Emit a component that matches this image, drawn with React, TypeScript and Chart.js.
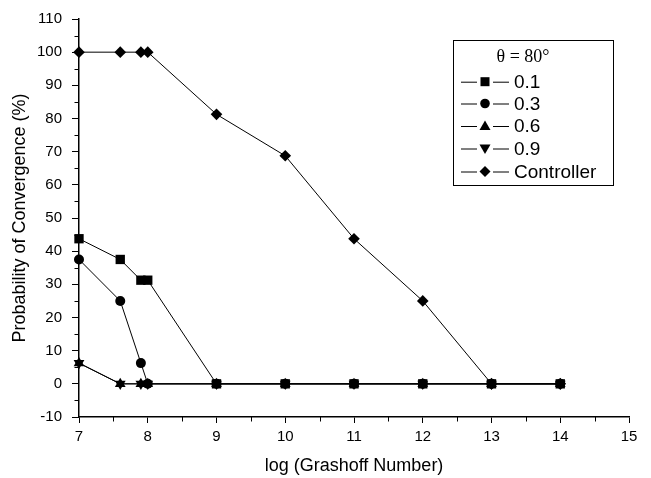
import React, { useEffect, useRef } from "react";
import { Chart, registerables } from "chart.js";

Chart.register(...registerables);

const xValues = [7, 7.6, 7.9, 8, 9, 10, 11, 12, 13, 14];
const series01 = [43.75, 37.5, 31.25, 31.25, 0, 0, 0, 0, 0, 0];
const series03 = [37.5, 25, 6.25, 0, 0, 0, 0, 0, 0, 0];
const series06 = [6.25, 0, 0, 0, 0, 0, 0, 0, 0, 0];
const series09 = [6.25, 0, 0, 0, 0, 0, 0, 0, 0, 0];
const seriesController = [100, 100, 100, 100, 81.25, 68.75, 43.75, 25, 0, 0];

const seriesLabels = ["0.1", "0.3", "0.6", "0.9", "Controller"];
const legendTitle = "θ = 80°";
const xTitle = "log (Grashoff Number)";
const yTitle = "Probability of Convergence (%)";

const FONT = "'Liberation Sans', Arial, Helvetica, sans-serif";

type Shape = "rect" | "circle" | "triUp" | "triDown" | "diamond";
const shapes: Shape[] = ["rect", "circle", "triUp", "triDown", "diamond"];

function drawMarker(ctx: CanvasRenderingContext2D, shape: Shape, x: number, y: number) {
  ctx.beginPath();
  if (shape === "rect") {
    ctx.rect(x - 4.5, y - 4.5, 9, 9);
  } else if (shape === "circle") {
    ctx.arc(x, y, 4.8, 0, Math.PI * 2);
  } else if (shape === "triUp") {
    ctx.moveTo(x, y - 5.5);
    ctx.lineTo(x + 5.5, y + 4);
    ctx.lineTo(x - 5.5, y + 4);
    ctx.closePath();
  } else if (shape === "triDown") {
    ctx.moveTo(x, y + 5.5);
    ctx.lineTo(x + 5.5, y - 4);
    ctx.lineTo(x - 5.5, y - 4);
    ctx.closePath();
  } else {
    ctx.moveTo(x, y - 5.5);
    ctx.lineTo(x + 5.5, y);
    ctx.lineTo(x, y + 5.5);
    ctx.lineTo(x - 5.5, y);
    ctx.closePath();
  }
  ctx.fillStyle = "#000";
  ctx.fill();
}

const legendPlugin = {
  id: "boxLegend",
  afterDraw(chart: any) {
    const ctx: CanvasRenderingContext2D = chart.ctx;
    ctx.save();
    const bx = 453.5, by = 40.5, bw = 160, bh = 145;
    ctx.fillStyle = "#fff";
    ctx.fillRect(bx, by, bw, bh);
    ctx.strokeStyle = "#000";
    ctx.lineWidth = 1;
    ctx.strokeRect(bx, by, bw, bh);
    ctx.fillStyle = "#000";
    ctx.font = "18px 'Liberation Serif', 'Times New Roman', serif";
    ctx.textAlign = "center";
    ctx.textBaseline = "middle";
    ctx.fillText(legendTitle, 523, 57);
    ctx.font = "19px " + FONT;
    ctx.textAlign = "left";
    const rows = [81.7, 103.5, 126, 148.5, 171.5];
    seriesLabels.forEach((lab, i) => {
      const y = rows[i];
      ctx.beginPath();
      ctx.moveTo(461, y + 0.5);
      ctx.lineTo(477, y + 0.5);
      ctx.moveTo(493, y + 0.5);
      ctx.lineTo(509, y + 0.5);
      ctx.strokeStyle = "#000";
      ctx.lineWidth = 1;
      ctx.stroke();
      drawMarker(ctx, shapes[i], 485, y);
      ctx.fillStyle = "#000";
      ctx.fillText(lab, 514, y + 1);
    });
    ctx.restore();
  },
};

const minorTickPlugin = {
  id: "minorTicks",
  afterDraw(chart: any) {
    const ctx: CanvasRenderingContext2D = chart.ctx;
    const xs = chart.scales.x;
    const ys = chart.scales.y;
    ctx.save();
    ctx.strokeStyle = "#000";
    ctx.lineWidth = 1;
    ctx.beginPath();
    for (let v = 7.5; v < 15; v += 1) {
      const px = Math.round(xs.getPixelForValue(v)) + 0.5;
      ctx.moveTo(px, ys.bottom);
      ctx.lineTo(px, ys.bottom + 4.5);
    }
    for (let v = -5; v < 110; v += 10) {
      const py = Math.round(ys.getPixelForValue(v)) + 0.5;
      ctx.moveTo(xs.left, py);
      ctx.lineTo(xs.left - 4.5, py);
    }
    ctx.stroke();
    ctx.restore();
  },
};

export default function App() {
  const canvasRef = useRef<HTMLCanvasElement | null>(null);

  useEffect(() => {
    document.body.style.margin = "0";
    const canvas = canvasRef.current;
    if (!canvas) return;
    const styles: any[] = [
      { pointStyle: "rect", pointRadius: 6.6, pointRotation: 0 },
      { pointStyle: "circle", pointRadius: 5, pointRotation: 0 },
      { pointStyle: "triangle", pointRadius: 6.2, pointRotation: 0 },
      { pointStyle: "triangle", pointRadius: 6.2, pointRotation: 180 },
      { pointStyle: "rectRot", pointRadius: 5.8, pointRotation: 0 },
    ];
    const all = [series01, series03, series06, series09, seriesController];
    const datasets = all.map((vals, i) => ({
      label: seriesLabels[i],
      data: xValues.map((x, j) => ({ x, y: vals[j] })),
      borderColor: "#000",
      backgroundColor: "#000",
      borderWidth: 1,
      pointBackgroundColor: "#000",
      pointBorderColor: "#000",
      pointBorderWidth: 0,
      tension: 0,
      clip: false as any,
      ...styles[i],
    }));

    const chart = new Chart(canvas, {
      type: "line",
      data: { datasets },
      plugins: [minorTickPlugin, legendPlugin],
      options: {
        animation: false,
        responsive: false,
        layout: { padding: { top: 16, right: 22, left: 0, bottom: 0 } },
        plugins: { legend: { display: false }, tooltip: { enabled: false } },
        scales: {
          x: {
            type: "linear",
            min: 7,
            max: 15,
            afterFit: (s: any) => { s.height = 61; },
            border: { display: true, color: "#000", width: 1.5 },
            grid: { drawOnChartArea: false, color: "#000", tickLength: 6, lineWidth: 1 },
            ticks: { stepSize: 1, color: "#000", font: { family: FONT, size: 15 }, padding: 5, autoSkip: false, maxRotation: 0 },
            title: { display: true, text: xTitle, color: "#000", font: { family: FONT, size: 18 }, padding: { top: 0, bottom: 1 } },
          },
          y: {
            type: "linear",
            min: -10,
            max: 110,
            afterFit: (s: any) => { s.width = 79; },
            border: { display: true, color: "#000", width: 1.5 },
            grid: { drawOnChartArea: false, color: "#000", tickLength: 7, lineWidth: 1 },
            ticks: { stepSize: 10, color: "#000", font: { family: FONT, size: 15 }, padding: 10, autoSkip: false },
            title: { display: true, text: yTitle, color: "#000", font: { family: FONT, size: 18 }, padding: { top: 9, bottom: 0 } },
          },
        },
      },
    });
    return () => chart.destroy();
  }, []);

  return (
    <div style={{ width: 651, height: 478 }}>
      <canvas ref={canvasRef} width={651} height={478} style={{ display: "block" }} />
    </div>
  );
}
